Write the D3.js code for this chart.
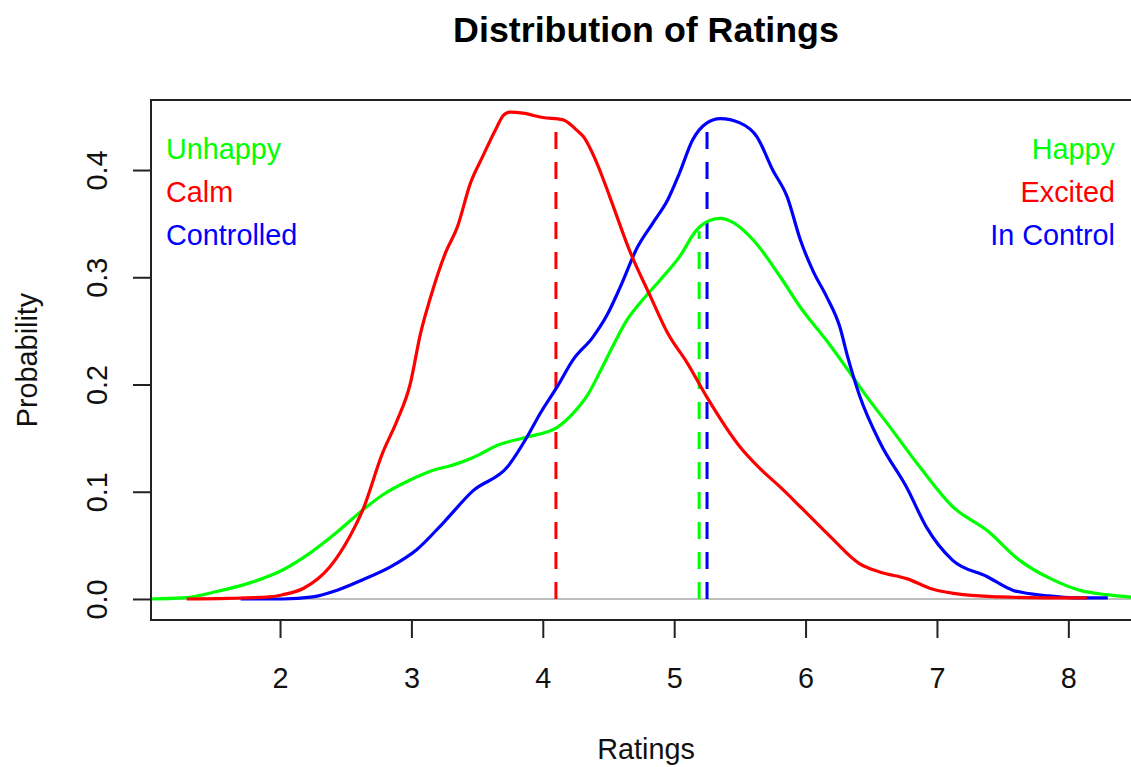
<!DOCTYPE html>
<html>
<head>
<meta charset="utf-8">
<script src="https://cdn.jsdelivr.net/npm/d3@7"></script>
<style>
  html, body { margin: 0; padding: 0; background: #fff; }
  svg { display: block; font-family: "Liberation Sans", Arial, sans-serif; }
</style>
</head>
<body>
<svg id="chart" width="1131" height="767"></svg>
<script>
// ---- data ----
const xTicks = [2, 3, 4, 5, 6, 7, 8];
const yTicks = [0.0, 0.1, 0.2, 0.3, 0.4];
const yTickLabels = ["0.0", "0.1", "0.2", "0.3", "0.4"];

const happyX = [1.02,1.26,1.52,1.77,2.02,2.23,2.43,2.63,2.78,2.99,3.19,3.29,3.47,3.67,3.88,4.11,4.23,4.34,4.44,4.53,4.64,4.74,4.89,5.04,5.17,5.27,5.35,5.45,5.60,5.81,5.96,6.16,6.36,6.47,6.62,6.87,7.12,7.38,7.63,7.88,8.09,8.29,8.55];
const happyY = [0,0.001,0.007,0.015,0.027,0.043,0.062,0.083,0.097,0.111,0.121,0.124,0.132,0.144,0.151,0.160,0.173,0.190,0.213,0.235,0.260,0.276,0.297,0.319,0.344,0.353,0.355,0.351,0.335,0.300,0.272,0.241,0.207,0.188,0.164,0.123,0.086,0.064,0.036,0.018,0.008,0.004,0.001];

const controlX = [1.70,2.02,2.25,2.43,2.63,2.84,3.04,3.25,3.47,3.73,3.88,3.98,4.11,4.23,4.38,4.49,4.59,4.72,4.84,4.95,5.04,5.14,5.25,5.35,5.50,5.63,5.75,5.86,5.96,6.06,6.16,6.26,6.32,6.41,6.57,6.77,6.92,7.12,7.38,7.58,7.84,8.05,8.30];
const controlY = [0,0,0.002,0.008,0.018,0.030,0.046,0.072,0.101,0.123,0.151,0.173,0.198,0.223,0.244,0.265,0.291,0.328,0.351,0.372,0.397,0.428,0.444,0.448,0.444,0.431,0.400,0.375,0.335,0.305,0.282,0.254,0.226,0.190,0.145,0.104,0.067,0.036,0.021,0.008,0.003,0.001,0.001];

const excitedX = [1.29,1.60,1.92,2.02,2.18,2.38,2.53,2.63,2.78,2.89,2.99,3.07,3.14,3.26,3.35,3.45,3.54,3.65,3.70,3.75,3.85,4.00,4.15,4.26,4.31,4.41,4.51,4.66,4.82,4.95,5.10,5.25,5.50,5.65,5.81,5.96,6.19,6.41,6.57,6.77,6.97,7.20,7.48,7.80,8.14];
const excitedY = [0,0.0005,0.002,0.004,0.010,0.030,0.058,0.083,0.136,0.166,0.200,0.248,0.279,0.323,0.347,0.388,0.412,0.440,0.451,0.454,0.453,0.449,0.447,0.437,0.431,0.407,0.375,0.325,0.282,0.248,0.220,0.188,0.142,0.122,0.104,0.086,0.058,0.033,0.025,0.019,0.009,0.004,0.002,0.001,0.001];

const seriesNames = ["Happy", "In Control", "Excited"];
const seriesColors = ["#00ff00", "#0000ff", "#ff0000"];
const meanX = [5.19, 5.25, 4.10];
const meanY = [0.343, 0.444, 0.447];

const leftLabels = ["Unhappy", "Calm", "Controlled"];
const rightLabels = ["Happy", "Excited", "In Control"];
const labelColors = ["#00ff00", "#ff0000", "#0000ff"];

const titleText = "Distribution of Ratings";
const xLabel = "Ratings";
const yLabel = "Probability";

// ---- layout ----
const svg = d3.select("#chart");
const L = 151, R = 1141, T = 100, B = 620;
const x = d3.scaleLinear().domain([1.018, 8.553]).range([L, R]);
const y = d3.scaleLinear().domain([-0.0196, 0.4653]).range([B, T]);
const fs = 28.8;

svg.append("defs").append("clipPath").attr("id", "clip")
  .append("rect").attr("x", L).attr("y", T).attr("width", R - L).attr("height", B - T);

// zero line
svg.append("line")
  .attr("x1", L).attr("x2", R).attr("y1", y(0)).attr("y2", y(0))
  .attr("stroke", "#bebebe").attr("stroke-width", 2);

const g = svg.append("g").attr("clip-path", "url(#clip)");
const line = d3.line().x(d => x(d[0])).y(d => y(d[1])).curve(d3.curveMonotoneX);
const allX = [happyX, controlX, excitedX];
const allY = [happyY, controlY, excitedY];

// dashed mean segments
meanX.forEach((mx, i) => {
  g.append("line")
    .attr("x1", x(mx)).attr("x2", x(mx))
    .attr("y1", y(0)).attr("y2", y(meanY[i]))
    .attr("stroke", seriesColors[i]).attr("stroke-width", 3)
    .attr("stroke-dasharray", "17,13");
});

allX.forEach((xs, i) => {
  const pts = xs.map((v, j) => [v, allY[i][j]]);
  g.append("path").datum(pts)
    .attr("d", line)
    .attr("fill", "none")
    .attr("stroke", seriesColors[i])
    .attr("stroke-width", 3.2)
    .attr("stroke-linejoin", "round");
});

// box
svg.append("rect").attr("x", L).attr("y", T).attr("width", R - L).attr("height", B - T)
  .attr("fill", "none").attr("stroke", "#222").attr("stroke-width", 2);

// x axis ticks
const xAxis = d3.axisBottom(x).tickValues(xTicks).tickFormat(d3.format("d")).tickSize(18).tickSizeOuter(0);
const xg = svg.append("g").attr("transform", `translate(0,${B})`).call(xAxis);
xg.select(".domain").attr("stroke", "#222").attr("stroke-width", 2)
  .attr("d", `M${x(xTicks[0])},0H${x(xTicks[xTicks.length-1])}`);
xg.selectAll(".tick line").attr("stroke", "#222").attr("stroke-width", 2);
xg.selectAll(".tick text").attr("fill", "#111").attr("font-size", fs)
  .attr("font-family", "Liberation Sans, Arial, sans-serif").attr("dy", null).attr("y", 68);

// y axis ticks
const yAxis = d3.axisLeft(y).tickValues(yTicks).tickFormat((d, i) => yTickLabels[i]).tickSize(18).tickSizeOuter(0);
const yg = svg.append("g").attr("transform", `translate(${L},0)`).call(yAxis);
yg.select(".domain").attr("stroke", "#222").attr("stroke-width", 2)
  .attr("d", `M0,${y(yTicks[0])}V${y(yTicks[yTicks.length-1])}`);
yg.selectAll(".tick line").attr("stroke", "#222").attr("stroke-width", 2);
yg.selectAll(".tick text")
  .attr("fill", "#111").attr("font-size", fs)
  .attr("font-family", "Liberation Sans, Arial, sans-serif")
  .attr("x", null).attr("dy", null).attr("y", null)
  .attr("text-anchor", "middle")
  .attr("transform", `translate(-44,0) rotate(-90)`);

// title and axis labels
svg.append("text").attr("x", (L + R) / 2).attr("y", 42)
  .attr("text-anchor", "middle").attr("font-weight", "bold").attr("font-size", 35.8)
  .attr("fill", "#000").text(titleText);
svg.append("text").attr("x", (L + R) / 2).attr("y", 759)
  .attr("text-anchor", "middle").attr("font-size", fs).attr("fill", "#111").text(xLabel);
svg.append("text").attr("transform", `translate(37,${(T + B) / 2}) rotate(-90)`)
  .attr("text-anchor", "middle").attr("font-size", fs).attr("fill", "#111").text(yLabel);

// side labels
const baseY = [159, 202, 245];
leftLabels.forEach((t, i) => {
  svg.append("text").attr("x", 166).attr("y", baseY[i]).attr("font-size", fs)
    .attr("fill", labelColors[i]).text(t);
});
rightLabels.forEach((t, i) => {
  svg.append("text").attr("x", 1115).attr("y", baseY[i]).attr("font-size", fs)
    .attr("text-anchor", "end").attr("fill", labelColors[i]).text(t);
});
</script>
</body>
</html>
